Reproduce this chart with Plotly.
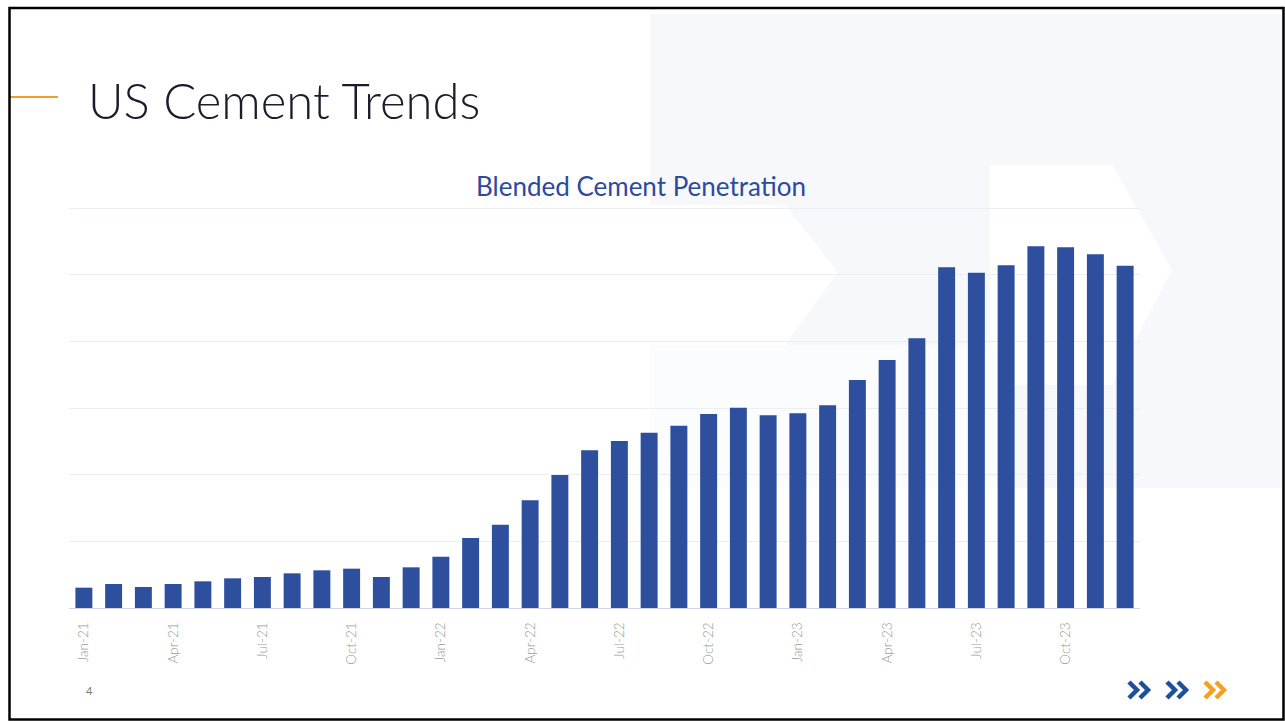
import plotly.graph_objects as go

# ---------------- data ----------------
months = ["Jan-21","Feb-21","Mar-21","Apr-21","May-21","Jun-21","Jul-21","Aug-21","Sep-21","Oct-21","Nov-21","Dec-21",
          "Jan-22","Feb-22","Mar-22","Apr-22","May-22","Jun-22","Jul-22","Aug-22","Sep-22","Oct-22","Nov-22","Dec-22",
          "Jan-23","Feb-23","Mar-23","Apr-23","May-23","Jun-23","Jul-23","Aug-23","Sep-23","Oct-23","Nov-23","Dec-23"]
penetration = [3.05, 3.6, 3.15, 3.6, 4.0, 4.45, 4.65, 5.2, 5.65, 5.9, 4.65, 6.1,
               7.7, 10.5, 12.5, 16.15, 19.95, 23.65, 25.05, 26.3, 27.35, 29.1, 30.05, 28.9,
               29.2, 30.4, 34.2, 37.2, 40.45, 51.1, 50.3, 51.4, 54.25, 54.1, 53.05, 51.35]
tick_labels = ["Jan-21","Apr-21","Jul-21","Oct-21","Jan-22","Apr-22","Jul-22","Oct-22",
               "Jan-23","Apr-23","Jul-23","Oct-23"]

W, H = 1285, 721
def px(x):
    return x / W
def py(y):
    return 1 - y / H

fig = go.Figure()
fig.add_trace(go.Bar(x=months, y=penetration, marker=dict(color="#2d4f9d", line=dict(width=0)),
                     hoverinfo="x+y"))

shapes = []
# faint background tint and chevron shapes
def poly(points, color):
    d = "M " + " L ".join(f"{px(x):.5f},{py(y):.5f}" for x, y in points) + " Z"
    return dict(type="path", path=d, xref="paper", yref="paper", fillcolor=color,
                line=dict(width=0), layer="below")

shapes.append(poly([(650, 14), (1284, 14), (1284, 488), (650, 488)], "#f7f8fc"))
shapes.append(poly([(650, 205), (785, 205), (838, 272), (785, 345), (650, 345)], "#ffffff"))
shapes.append(poly([(990, 165), (1112, 165), (1172, 270), (1112, 385), (990, 385)], "#ffffff"))
shapes.append(poly([(650, 345), (1000, 345), (1000, 488), (650, 488)], "#fbfcfe"))

# orange accent line next to the title
shapes.append(dict(type="line", xref="paper", yref="paper", x0=px(10), x1=px(58), y0=py(97), y1=py(97),
                   line=dict(color="#f39c2a", width=2)))

# slide border
shapes.append(dict(type="rect", xref="paper", yref="paper", x0=px(9.5), x1=px(1283.5), y0=py(719.5), y1=py(8),
                   line=dict(color="#000000", width=2.5), fillcolor="rgba(0,0,0,0)"))

# chevrons bottom right
def chevron(x0, color):
    out = []
    for dx in (0, 11):
        a = x0 + dx
        d = f"M {px(a):.5f},{py(682):.5f} L {px(a+8):.5f},{py(690):.5f} L {px(a):.5f},{py(698):.5f}"
        out.append(dict(type="path", path=d, xref="paper", yref="paper",
                        line=dict(color=color, width=4.5)))
    return out

shapes += chevron(1129, "#1d4f9e")
shapes += chevron(1167, "#1d4f9e")
shapes += chevron(1205, "#f5a020")

annotations = [
    dict(text="US Cement Trends", x=px(86), y=py(100), xref="paper", yref="paper", xanchor="left",
         yanchor="middle", showarrow=False,
         font=dict(family="Lato", size=49, color="#1b1b2b", weight=300)),
    dict(text="Blended Cement Penetration", x=px(641), y=py(186), xref="paper", yref="paper",
         xanchor="center", yanchor="middle", showarrow=False,
         font=dict(family="Lato", size=26, color="#2c4a9e")),
    dict(text="4", x=px(89), y=py(690), xref="paper", yref="paper", xanchor="center", yanchor="middle",
         showarrow=False, font=dict(family="Lato", size=11, color="#777777")),
]

fig.update_layout(
    width=W, height=H,
    margin=dict(l=0, r=0, t=0, b=0),
    paper_bgcolor="#ffffff",
    plot_bgcolor="rgba(0,0,0,0)",
    showlegend=False,
    bargap=0.43,
    shapes=shapes,
    annotations=annotations,
    xaxis=dict(domain=[px(69), px(1140)], type="category", tickmode="array", tickvals=tick_labels,
               ticktext=tick_labels, tickangle=-90,
               tickfont=dict(family="Lato", size=13.5, color="#9a9a9a", weight=300),
               ticklabelstandoff=8,
               showline=True, linecolor="#d3d6e0", linewidth=1, ticks="", showgrid=False),
    yaxis=dict(domain=[py(608), py(608 - 61 * 400 / 60)], range=[0, 61], tick0=0, dtick=10,
               showticklabels=False,
               showgrid=True, gridcolor="#eceef5", gridwidth=1, zeroline=False, showline=False),
)

fig.write_html("out.html", config={"displayModeBar": False},
               post_script="document.body.style.margin='0';document.body.style.overflow='hidden';")
